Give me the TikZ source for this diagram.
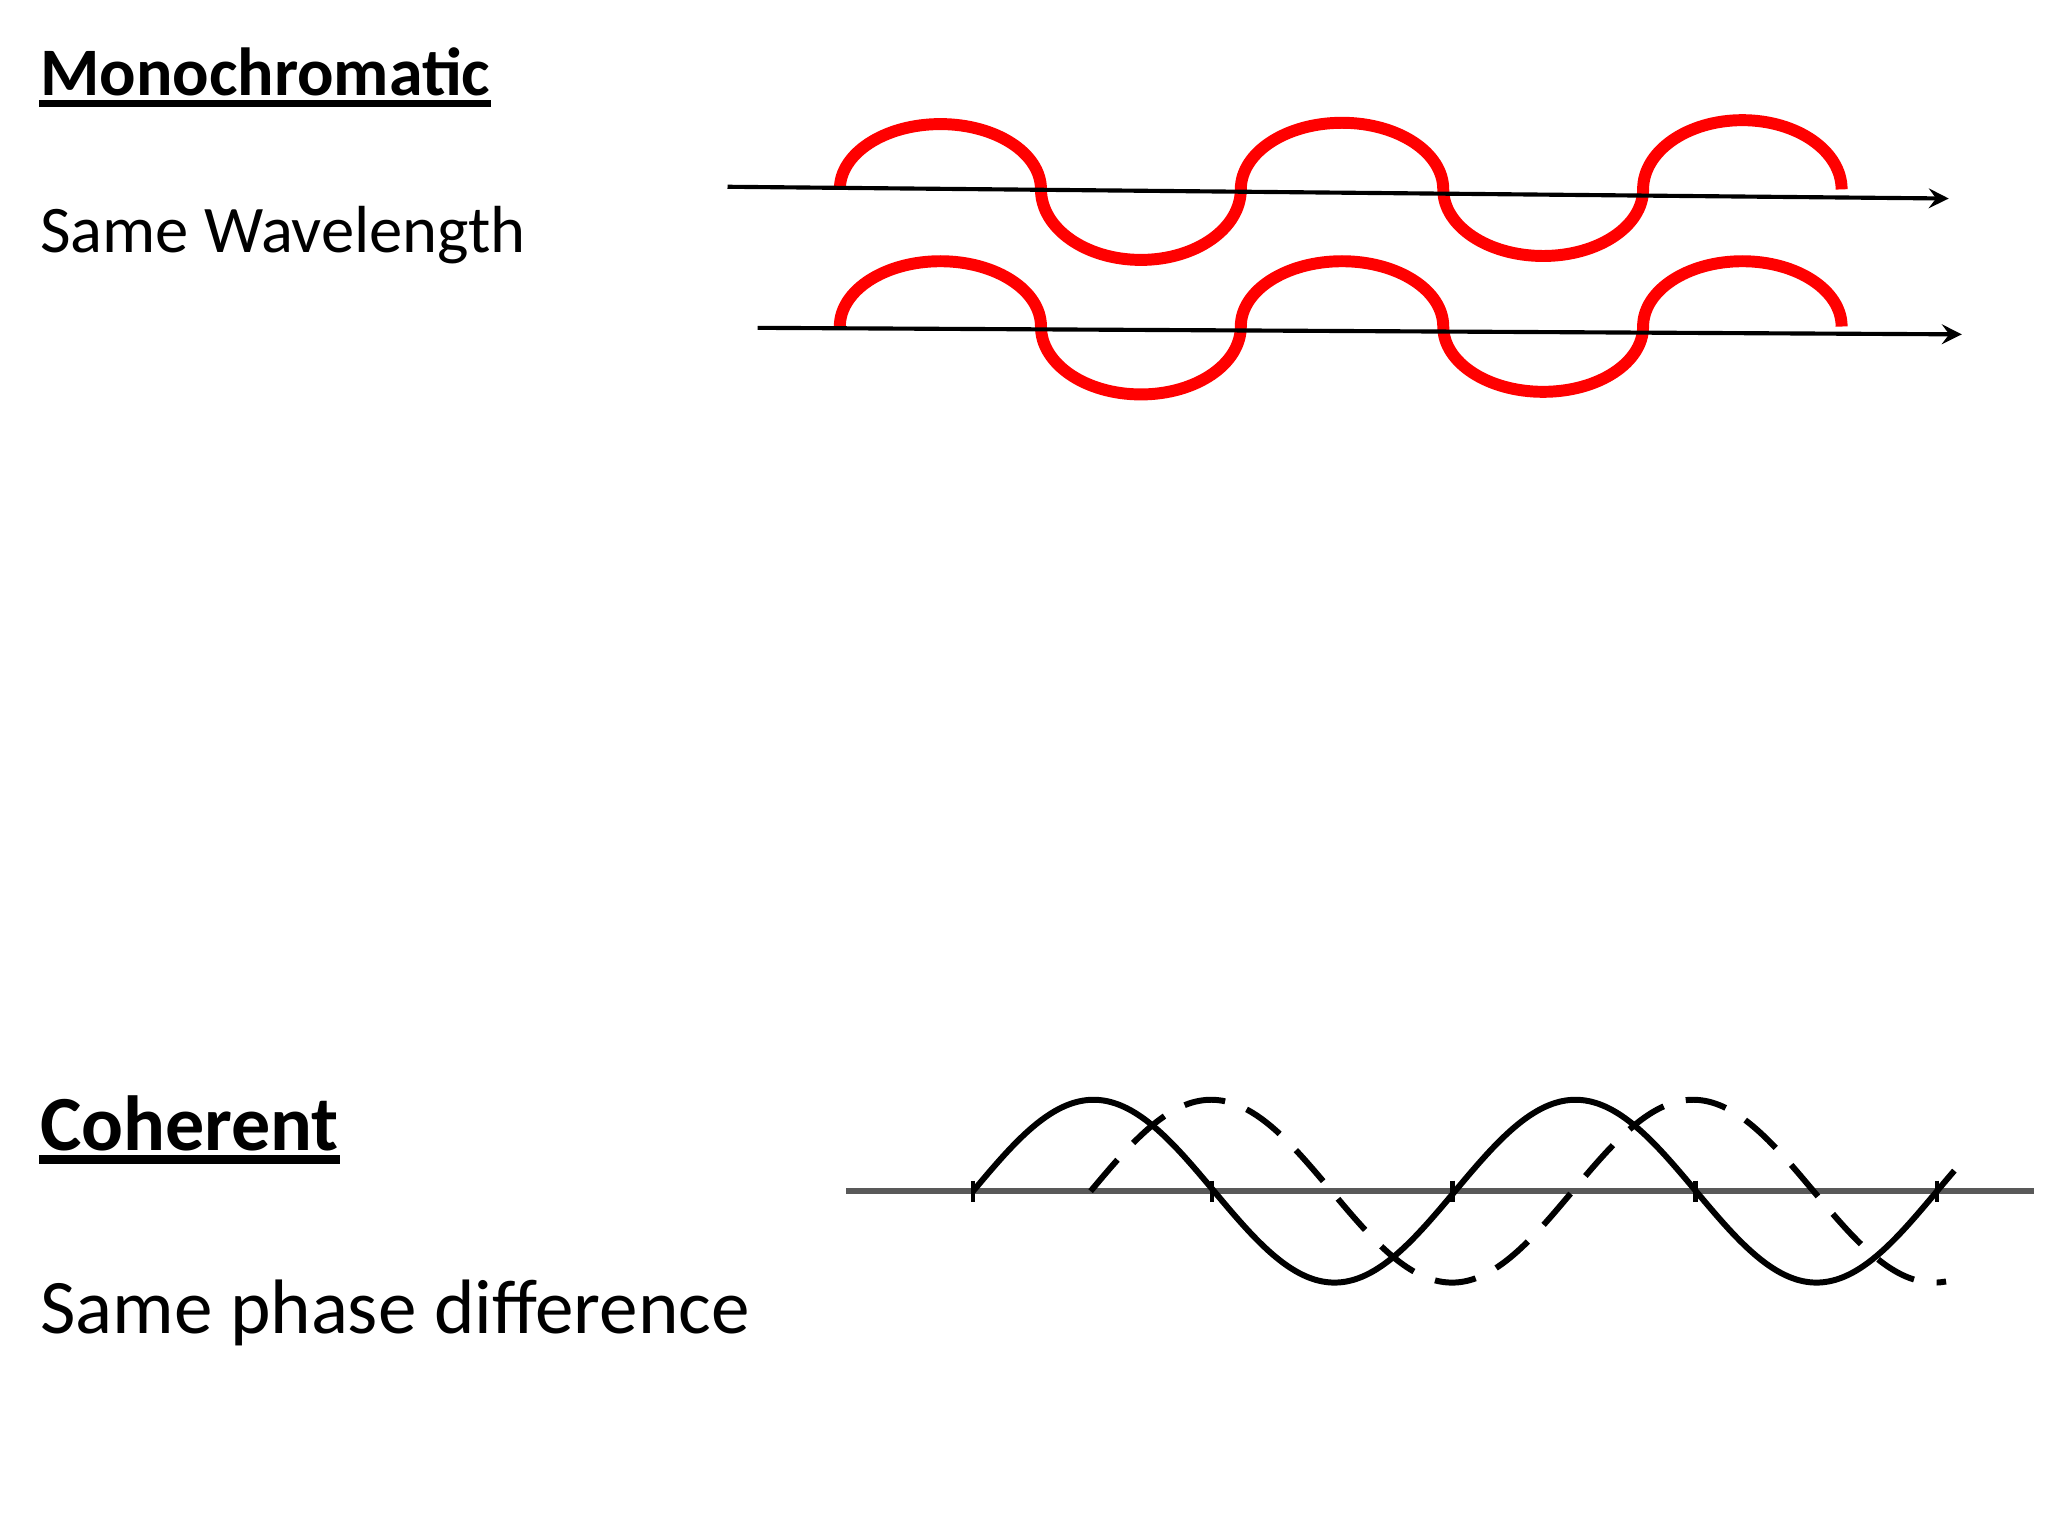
\documentclass[tikz,border=0pt]{standalone}
\usepackage{fontspec}
\setmainfont{Carlito}
\begin{document}
\begin{tikzpicture}[x=0.01cm,y=-0.01cm,
  lbl/.style={anchor=west,inner sep=0pt},
  redwave/.style={red,line width=2.6pt},
  axis/.style={black,line width=0.9pt,-stealth},
  sine/.style={black,line width=1.3pt}]
\useasboundingbox (0,0) rectangle (1568,1176);
\node[lbl,font=\fontsize{14.8pt}{17pt}\selectfont\bfseries] (t1) at (30,55) {Monochromatic};
\draw[line width=1.6pt] ([yshift=-0.06cm]t1.base west) -- ([yshift=-0.06cm]t1.base east);
\node[lbl,font=\fontsize{14.5pt}{17pt}\selectfont] (s1) at (30,180) {Same Wavelength};
\node[lbl,font=\fontsize{17pt}{20pt}\selectfont\bfseries] (t2) at (30,860) {Coherent};
\draw[line width=1.8pt] ([yshift=-0.07cm]t2.base west) -- ([yshift=-0.07cm]t2.base east);
\node[lbl,font=\fontsize{16.8pt}{20pt}\selectfont] (s2) at (30,1005) {Same phase difference};
% wave 1
\draw[redwave] (643,145) arc[start angle=180,end angle=0,x radius=77,y radius=-50]
  arc[start angle=180,end angle=360,x radius=76.5,y radius=-54]
  arc[start angle=180,end angle=0,x radius=77.5,y radius=-51]
  arc[start angle=180,end angle=360,x radius=76.5,y radius=-51]
  arc[start angle=180,end angle=0,x radius=76,y radius=-53];
\coordinate (a1) at (557,143); \coordinate (b1) at (1492,152);
\draw[axis] (a1) -- (b1);
% wave 2
\draw[redwave] (643,250) arc[start angle=180,end angle=0,x radius=77,y radius=-50]
  arc[start angle=180,end angle=360,x radius=76.5,y radius=-52]
  arc[start angle=180,end angle=0,x radius=77.5,y radius=-50]
  arc[start angle=180,end angle=360,x radius=76.5,y radius=-50]
  arc[start angle=180,end angle=0,x radius=76,y radius=-50];
\coordinate (a2) at (580,251); \coordinate (b2) at (1502,256);
\draw[axis] (a2) -- (b2);
% coherent
\coordinate (a3) at (648,912); \coordinate (b3) at (1557,912);
\draw[gray!70!black,line width=1.2pt] (a3) -- (b3);
\foreach \x in {745,928,1112,1298,1483} \draw[line width=1pt] (\x,904) -- (\x,920);
\draw[sine,domain=0:733,samples=150,smooth] plot ({745+\x*1.025},{912-70*sin(\x)});
\draw[sine,dashed,dash pattern=on 9pt off 5pt,domain=0:639,samples=150,smooth] plot ({835+\x*1.025},{912-70*sin(\x)});
\end{tikzpicture}
\end{document}
